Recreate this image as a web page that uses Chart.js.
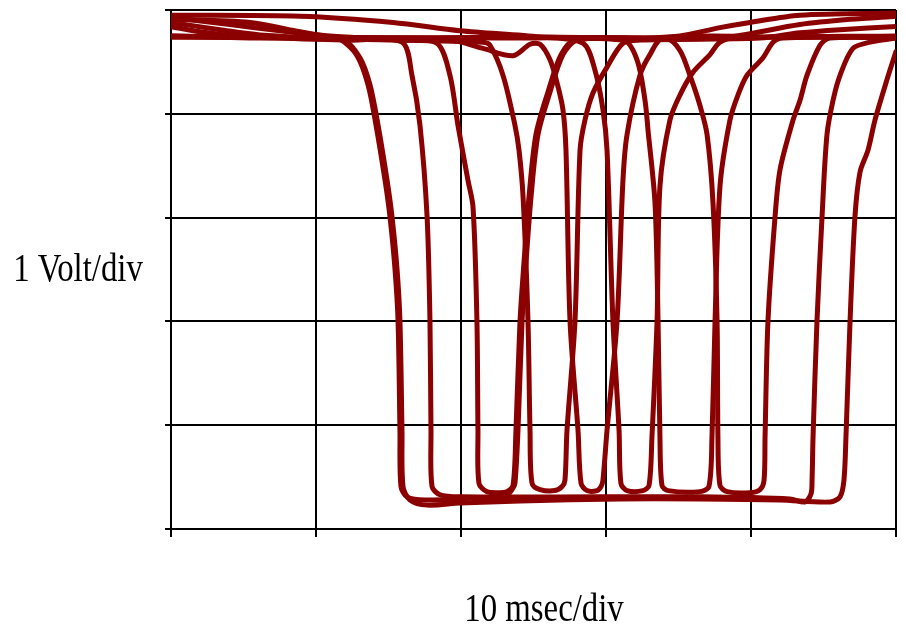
<!DOCTYPE html>
<html>
<head>
<meta charset="utf-8">
<title>Scope traces</title>
<script src="https://cdn.jsdelivr.net/npm/chart.js@4.4.1/dist/chart.umd.min.js"></script>
<style>
  html, body { margin: 0; padding: 0; background: #fff; }
  canvas { display: block; }
</style>
</head>
<body>
<canvas id="scope" width="906" height="635"></canvas>
<script>
// Overlaid sweeps, [time in ms, level in volts]
const sweep1 = [[0, 4.75], [5.45, 4.73], [11.86, 4.71], [13.03, 4.54], [13.72, 4.28], [14.28, 3.89], [14.90, 3.36], [15.24, 3.01], [15.59, 2.50], [15.79, 2.00], [15.93, 0.95], [16.00, 0.41], [16.48, 0.28], [17.66, 0.23], [19.93, 0.25], [24.07, 0.27], [30.97, 0.29], [36.48, 0.29], [42.00, 0.28], [45.45, 0.26], [46.14, 0.31], [46.41, 0.47], [46.55, 0.89], [46.83, 2.00], [47.17, 3.01], [47.52, 3.44], [48.07, 3.65], [48.55, 3.94], [49.38, 4.33], [50, 4.60]];
const sweep2 = [[0, 4.91], [5.45, 4.88], [8.90, 4.79], [10.97, 4.74], [11.66, 4.72], [12.83, 4.56], [13.59, 4.28], [14.14, 3.89], [14.76, 3.36], [15.10, 3.01], [15.45, 2.50], [15.66, 2.00], [15.79, 0.95], [15.86, 0.41], [16.28, 0.31], [17.52, 0.28], [21.31, 0.30], [23.03, 0.31], [23.52, 0.38], [23.72, 0.44], [23.93, 0.95], [24.21, 2.00], [24.48, 2.56], [24.83, 3.20], [25.31, 3.80], [26.14, 4.21], [27.03, 4.57], [28.00, 4.71], [30.97, 4.73], [37.86, 4.73], [43.38, 4.86], [46.83, 4.91], [50, 4.94]];
const sweep3 = [[0, 4.84], [2.00, 4.79], [5.45, 4.74], [12.34, 4.71], [15.93, 4.69], [16.62, 4.37], [17.17, 3.89], [17.66, 3.01], [17.86, 2.00], [17.93, 0.95], [18.00, 0.41], [18.55, 0.33], [19.93, 0.31], [29.59, 0.31], [36.48, 0.31], [42.69, 0.29], [43.72, 0.26], [44.14, 0.34], [44.21, 0.47], [44.28, 0.89], [44.55, 2.00], [44.90, 3.01], [45.24, 3.80], [45.66, 4.13], [46.14, 4.37], [47.03, 4.63], [48.21, 4.69], [50, 4.73]];
const sweep4 = [[0, 4.93], [4.07, 4.86], [7.52, 4.80], [10.97, 4.75], [15.79, 4.71], [18.34, 4.68], [19.24, 4.37], [19.79, 3.89], [20.48, 3.36], [20.83, 3.10], [21.10, 2.00], [21.17, 0.95], [21.24, 0.44], [21.79, 0.36], [22.69, 0.35], [23.17, 0.36], [23.59, 0.42], [23.79, 0.95], [24.07, 2.00], [24.34, 2.56], [24.69, 3.20], [25.17, 3.80], [26.00, 4.21], [26.90, 4.57], [27.86, 4.71], [32.34, 4.73], [35.10, 4.75], [37.86, 4.83], [39.93, 4.88], [43.38, 4.95], [50, 4.97]];
const sweep5 = [[0, 4.88], [3.38, 4.81], [6.14, 4.76], [12.34, 4.72], [21.52, 4.69], [22.00, 4.66], [22.90, 4.37], [23.72, 3.89], [24.00, 3.65], [24.28, 3.20], [24.62, 2.00], [24.76, 0.95], [24.90, 0.44], [25.45, 0.38], [26.48, 0.37], [26.97, 0.41], [27.17, 0.47], [27.31, 0.95], [27.86, 2.00], [28.21, 3.65], [28.55, 3.94], [29.10, 4.20], [30.07, 4.45], [31.17, 4.68], [32.34, 4.71], [40.62, 4.73], [43.38, 4.78], [46.14, 4.81], [50, 4.84]];
const sweep6 = [[0, 4.75], [8.90, 4.73], [19.24, 4.71], [21.52, 4.63], [23.59, 4.56], [24.76, 4.67], [25.45, 4.67], [26.14, 4.52], [26.62, 4.30], [27.03, 4.04], [27.24, 3.65], [27.52, 2.00], [28.07, 0.95], [28.28, 0.44], [28.69, 0.37], [29.38, 0.37], [29.66, 0.41], [29.79, 0.47], [30.07, 0.95], [30.76, 2.00], [31.17, 3.36], [31.45, 3.80], [32.34, 4.37], [33.03, 4.57], [33.93, 4.73], [42.00, 4.74], [50, 4.74]];
const sweep7 = [[0, 4.95], [8.90, 4.94], [15.31, 4.88], [19.93, 4.80], [25.45, 4.74], [28.41, 4.68], [29.24, 4.42], [29.79, 4.04], [30.07, 3.65], [30.48, 2.00], [30.90, 0.95], [31.03, 0.44], [31.45, 0.37], [32.55, 0.37], [32.97, 0.42], [33.17, 0.89], [33.52, 2.00], [33.72, 3.30], [34.41, 3.94], [35.10, 4.18], [36.00, 4.40], [37.17, 4.57], [37.86, 4.69], [38.90, 4.73], [50, 4.75]];
const sweep8 = [[0, 4.74], [15.79, 4.73], [31.17, 4.71], [32.14, 4.52], [32.69, 4.13], [32.90, 3.84], [33.38, 3.14], [33.59, 2.00], [33.72, 0.89], [33.86, 0.42], [34.28, 0.37], [36.48, 0.36], [37.10, 0.41], [37.31, 0.89], [37.52, 2.00], [37.86, 3.30], [38.55, 3.94], [39.10, 4.18], [39.72, 4.37], [40.83, 4.54], [41.52, 4.69], [42.21, 4.73], [50, 4.74]];
const sweep9 = [[0, 4.74], [22.69, 4.73], [34.21, 4.72], [35.10, 4.61], [35.79, 4.37], [36.48, 4.08], [36.97, 3.80], [37.38, 3.14], [37.66, 2.00], [37.72, 0.89], [37.86, 0.42], [38.34, 0.36], [39.93, 0.35], [40.62, 0.38], [40.90, 0.47], [40.97, 0.89], [41.17, 2.00], [41.66, 3.01], [42.00, 3.46], [42.90, 3.94], [43.38, 4.13], [43.86, 4.37], [44.76, 4.66], [45.45, 4.73], [50, 4.73]];

const sweeps = [sweep1, sweep2, sweep3, sweep4, sweep5, sweep6, sweep7, sweep8, sweep9];

// 10 ms per division, 1 V per division
const timeTicks = [0, 10, 20, 30, 40, 50];
const voltTicks = [0, 1, 2, 3, 4, 5];

const xLabel = '10 msec/div';
const yLabel = '1 Volt/div';

const traceColor = '#8b0000';

// axis captions in a narrow serif face
const scopeLabels = {
    id: 'scopeLabels',
    afterDraw(chart) {
        const ctx = chart.ctx;
        const draw = (text, cx, cy) => {
            ctx.save();
            ctx.translate(cx, cy);
            ctx.scale(0.82, 1);
            ctx.font = '40px "Liberation Serif", serif';
            ctx.fillStyle = '#000';
            ctx.textAlign = 'center';
            ctx.textBaseline = 'middle';
            ctx.fillText(text, 0, 0);
            ctx.restore();
        };
        draw(yLabel, 78, 270);
        draw(xLabel, 544, 610);
    }
};

const axisGrid = (tickLength) => ({
    color: '#000',
    lineWidth: 2,
    drawTicks: true,
    tickLength: tickLength
});

new Chart(document.getElementById('scope'), {
    type: 'line',
    data: {
        datasets: sweeps.map(pts => ({
            data: pts.map(([x, y]) => ({ x: x, y: y })),
            borderColor: traceColor,
            borderWidth: 5,
            borderJoinStyle: 'round',
            borderCapStyle: 'round',
            pointRadius: 0,
            tension: 0.3,
            fill: false
        }))
    },
    options: {
        responsive: false,
        animation: false,
        layout: {
            padding: { left: 165, right: 10, top: 10, bottom: 98 }
        },
        plugins: {
            legend: { display: false },
            tooltip: { enabled: false }
        },
        scales: {
            x: {
                type: 'linear',
                min: timeTicks[0],
                max: timeTicks[timeTicks.length - 1],
                afterBuildTicks: scale => { scale.ticks = timeTicks.map(v => ({ value: v })); },
                ticks: { display: false },
                grid: axisGrid(8),
                border: { color: '#000', width: 2 }
            },
            y: {
                type: 'linear',
                min: voltTicks[0],
                max: voltTicks[voltTicks.length - 1],
                afterBuildTicks: scale => { scale.ticks = voltTicks.map(v => ({ value: v })); },
                ticks: { display: false },
                grid: axisGrid(6),
                border: { color: '#000', width: 2 }
            }
        }
    },
    plugins: [scopeLabels]
});
</script>
</body>
</html>
